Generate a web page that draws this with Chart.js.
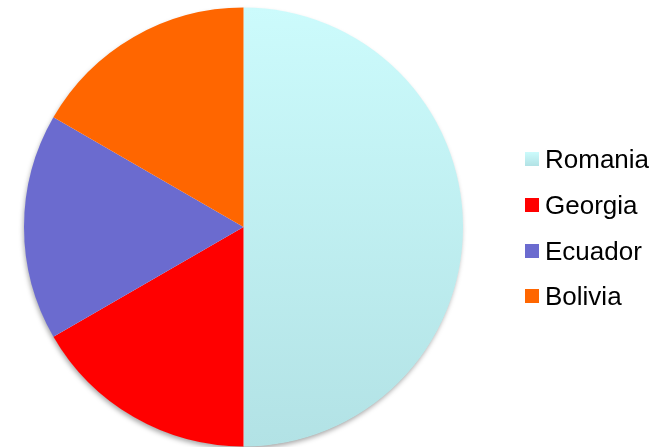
<!DOCTYPE html>
<html lang="en">
<head>
    <meta charset="UTF-8">
    <title>Country Share</title>
    <script src="https://cdn.jsdelivr.net/npm/chart.js"></script>
    <style>
        body {
            margin: 0;
            background-color: #ffffff;
            font-family: "Liberation Sans", Arial, sans-serif;
        }
        .wrap {
            position: relative;
            width: 659px;
            height: 447px;
            overflow: hidden;
        }
        #legend {
            position: absolute;
            left: 525px;
            top: 152px;
        }
        .item {
            position: relative;
            height: 45.8px;
        }
        .box {
            position: absolute;
            left: 0;
            top: 0;
            width: 14px;
            height: 14px;
        }
        .label {
            position: absolute;
            left: 20px;
            top: -8px;
            font-size: 26px;
            line-height: 30px;
            color: #000000;
            white-space: nowrap;
        }
    </style>
</head>
<body>
    <div class="wrap">
        <canvas id="pieChart" width="659" height="447"></canvas>
        <div id="legend"></div>
    </div>
    <script>
        // Countries and their shares
        const countries = ['Romania', 'Georgia', 'Ecuador', 'Bolivia'];
        const shares = [3, 1, 1, 1];
        const sliceColors = ['#c6f6f8', '#ff0000', '#6b6bcf', '#ff6600'];

        // Romania gets a soft top-to-bottom cyan gradient
        function sliceFill(context) {
            const i = context.dataIndex;
            if (i !== 0) return sliceColors[i];
            const area = context.chart.chartArea;
            if (!area) return sliceColors[0];
            const g = context.chart.ctx.createLinearGradient(0, area.top, 0, area.bottom);
            g.addColorStop(0, '#ccfbfc');
            g.addColorStop(1, '#b2e2e5');
            return g;
        }

        // Soft shadow under the whole pie
        const pieShadow = {
            id: 'pieShadow',
            beforeDatasetsDraw(chart) {
                const arc = chart.getDatasetMeta(0).data[0];
                if (!arc) return;
                const ctx = chart.ctx;
                ctx.save();
                ctx.shadowColor = 'rgba(0, 0, 0, 0.35)';
                ctx.shadowBlur = 5;
                ctx.shadowOffsetX = -1;
                ctx.shadowOffsetY = 3;
                ctx.fillStyle = '#ffffff';
                ctx.beginPath();
                ctx.arc(arc.x, arc.y, arc.outerRadius - 0.5, 0, Math.PI * 2);
                ctx.fill();
                ctx.restore();
            }
        };

        const ctx = document.getElementById('pieChart').getContext('2d');
        new Chart(ctx, {
            type: 'pie',
            data: {
                labels: countries,
                datasets: [{
                    data: shares,
                    backgroundColor: sliceFill,
                    borderWidth: 0,
                    hoverOffset: 0
                }]
            },
            options: {
                responsive: false,
                animation: false,
                layout: {
                    padding: { left: 24, top: 7, right: 196, bottom: 0 }
                },
                plugins: {
                    legend: { display: false },
                    tooltip: { enabled: false }
                }
            },
            plugins: [pieShadow]
        });

        // Legend on the right
        const legend = document.getElementById('legend');
        countries.forEach((name, i) => {
            const item = document.createElement('div');
            item.className = 'item';
            const box = document.createElement('div');
            box.className = 'box';
            box.style.background = i === 0
                ? 'linear-gradient(#ccfbfc, #b2e2e5)'
                : sliceColors[i];
            const label = document.createElement('div');
            label.className = 'label';
            label.textContent = name;
            item.appendChild(box);
            item.appendChild(label);
            legend.appendChild(item);
        });
    </script>
</body>
</html>
